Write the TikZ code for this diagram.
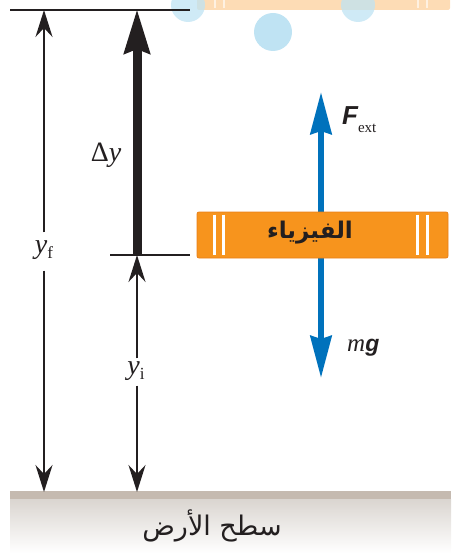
\documentclass[tikz,border=0pt]{standalone}
\usepackage{fontspec}
\usetikzlibrary{arrows.meta}
\newfontfamily\arabicfont[Script=Arabic]{DejaVu Sans}
\newfontfamily\helv{Liberation Sans}
\newfontfamily\tms{Liberation Serif}
\TeXXeTstate=1
\definecolor{ink}{HTML}{231F20}
\definecolor{bookorange}{HTML}{F7941D}
\definecolor{bookedge}{HTML}{E8801A}
\definecolor{fadeorange}{HTML}{FDDCB5}
\definecolor{fblue}{HTML}{0072BC}
\definecolor{groundband}{HTML}{C5BAB0}
\definecolor{groundtop}{HTML}{DAD5D0}
\definecolor{ghostblue}{HTML}{BFE3F3}
\tikzset{
  thinarrow/.style={draw=ink, line width=2.2pt, -{Stealth[length=27pt,width=17pt,inset=9pt]}},
  bigarrow/.style={draw=ink, line width=9pt, -{Stealth[length=44pt,width=25pt,inset=4pt]}},
  bluearrow/.style={draw=fblue, line width=6pt, -{Stealth[length=42pt,width=21pt,inset=3pt]}},
  refline/.style={draw=ink, line width=1.3pt},
  lbl/.style={inner sep=1pt, font=\tms\fontsize{28}{30}\selectfont, text=ink},
  bookbox/.style={fill=bookorange, draw=bookedge, line width=0.8pt, rounded corners=2pt,
     minimum width=251pt, minimum height=46pt, inner sep=0pt},
  whitebar/.style={draw=white, line width=3.5pt}
}
\begin{document}
\begin{tikzpicture}[x=1pt,y=-1pt]
\useasboundingbox (0,0) rectangle (451,553);
% ghost book at top and circles
\fill[fadeorange, rounded corners=2pt] (197,-30) rectangle (450,10);
\fill[ghostblue, opacity=0.75] (188,5) circle (17);
\fill[ghostblue, opacity=0.75] (358,5) circle (17);
\fill[ghostblue] (273,32) circle (19);
\draw[white, line width=2pt, opacity=0.6] (215,-5) -- (215,8) (224,-5) -- (224,8)
   (418,-5) -- (418,8) (427,-5) -- (427,8);
% ground
\fill[top color=groundtop, bottom color=white] (10,499) rectangle (451,553);
\fill[groundband] (10,491) rectangle (451,499);
\node[font=\arabicfont\fontsize{27}{30}\selectfont, text=ink] (groundlbl) at (212,526) {\beginR سطح الأرض\endR};
% coordinates
\coordinate (ltop) at (44,10);
\coordinate (lbot) at (44,492);
\coordinate (mtop) at (137,255);
\coordinate (mbot) at (137,492);
\coordinate (thicktop) at (137,9);
\coordinate (hlA1) at (10,10);
\coordinate (hlA2) at (190,10);
\coordinate (hlB1) at (110,255);
\coordinate (hlB2) at (190,255);
% reference lines
\draw[refline] (hlA1) -- (hlA2);
\draw[refline] (hlB1) -- (hlB2);
% labels
\node[lbl] (yf) at (44,250) {\textit{y}\raisebox{-5pt}{\fontsize{17}{18}\selectfont f}};
\node[lbl] (yi) at (136,371) {\textit{y}\raisebox{-5pt}{\fontsize{17}{18}\selectfont i}};
\node[lbl] (dy) at (106,155) {Δ\textit{y}};
% y_f arrow
\draw[thinarrow] (yf.north) ++(0,-7) -- (ltop);
\draw[thinarrow] (yf.south) ++(0,10) -- (lbot);
% y_i arrow
\draw[thinarrow] (yi.north) ++(1,-2) -- (mtop);
\draw[thinarrow] (yi.south) ++(1,4) -- (mbot);
% delta y thick arrow
\draw[bigarrow] (hlB2 -| mtop) -- (thicktop);
% forces
\coordinate (bc) at (321,235);
\coordinate (ftip) at (321,92);
\coordinate (gtip) at (321,378);
\draw[bluearrow] (bc) -- (ftip);
\draw[bluearrow] (bc) -- (gtip);
% book
\node[bookbox] (book) at (322.5,235) {};
\draw[whitebar] (book.north west) ++(18,3) -- ++(0,40);
\draw[whitebar] (book.north west) ++(27,3) -- ++(0,40);
\draw[whitebar] (book.north east) ++(-31,3) -- ++(0,40);
\draw[whitebar] (book.north east) ++(-21,3) -- ++(0,40);
\node[font=\arabicfont\bfseries\fontsize{23}{25}\selectfont, text=ink] (booktxt) at (310,233) {\beginR الفيزياء\endR};
% force labels
\node[anchor=west, inner sep=0pt, text=ink] (fext) at (342,120)
  {{\helv\bfseries\itshape\fontsize{26}{28}\selectfont F}\raisebox{-8pt}{\tms\fontsize{15}{16}\selectfont ext}};
\node[anchor=west, inner sep=0pt, text=ink] (mg) at (347,348)
  {{\tms\itshape\fontsize{25}{27}\selectfont m}{\helv\bfseries\itshape\fontsize{23}{25}\selectfont g}};
\end{tikzpicture}
\end{document}
